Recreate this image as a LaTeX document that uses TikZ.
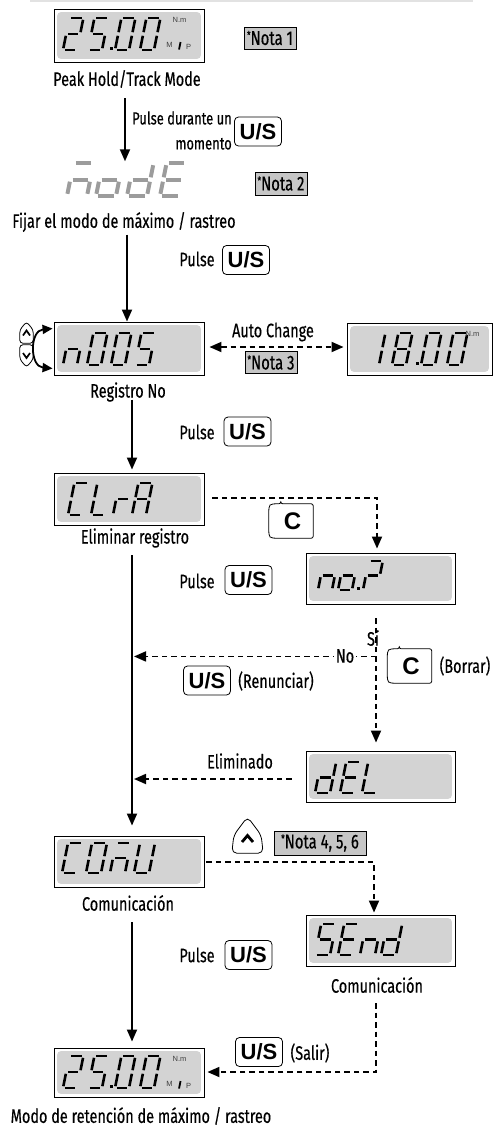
\documentclass[tikz,border=0pt]{standalone}
\usepackage{fontspec}
\setmainfont{Fira Sans}[FakeStretch=0.74,FakeBold=0.4]
\newfontfamily\keyfont{Liberation Sans}
\usetikzlibrary{arrows.meta,calc}

\definecolor{lcdgray}{HTML}{D3D3D3}
\definecolor{notegray}{HTML}{C6C6C6}
\definecolor{modegray}{HTML}{9C9C9C}
\definecolor{rulegray}{HTML}{E2E2E2}

% seven-segment glyph parameters: height, width, stroke
\def\gg{1.8}
\def\gcol{black}
\newcommand\glyphsize[3]{\def\gh{#1}\def\gw{#2}\def\glw{#3}}
\glyphsize{32}{14}{2.6}
% one slanted seven-segment cell, bottom-left corner at (#1,#2)
\newcommand\glyph[3]{%
  \begin{scope}[shift={(#1,#2)},xslant=0.2]
    \foreach \s in {#3}{\draw[seg,sg-\s];}
  \end{scope}}
% LCD window: name, centre x, centre y, width, height
\newcommand\lcd[5]{%
  \node[lcdframe,minimum width=#4pt,minimum height=#5pt] (#1) at (#2,#3) {};
  \fill[lcdgray,rounded corners=4pt] ($(#1.north west)+(3.5,3.5)$) rectangle ($(#1.south east)+(-3.5,-3.5)$);}
% unit legend of the main reading
\newcommand\units[2]{%
  \node[unit] (#1-nm) at ($(#1.north west)+(126,11.5)$) {N.m};
  \ifx#2y
  \node[unit] (#1-m) at ($(#1.north west)+(116,36)$) {M};
  \draw[line width=1.8pt] ($(#1.north west)+(127,33.5)$) -- ($(#1.north west)+(125.5,41)$);
  \node[unit] (#1-p) at ($(#1.north west)+(135,38)$) {P};
  \fi}

\tikzset{
  sg-a/.style={insert path={(\gg,-\gh) -- (\gw-\gg,-\gh)}},
  sg-b/.style={insert path={(\gw,-\gh+\gg) -- (\gw,-\gh/2-\gg)}},
  sg-c/.style={insert path={(\gw,-\gh/2+\gg) -- (\gw,-\gg)}},
  sg-d/.style={insert path={(\gg,0) -- (\gw-\gg,0)}},
  sg-e/.style={insert path={(0,-\gg) -- (0,-\gh/2+\gg)}},
  sg-f/.style={insert path={(0,-\gh/2-\gg) -- (0,-\gh+\gg)}},
  sg-g/.style={insert path={(\gg,-\gh/2) -- (\gw-\gg,-\gh/2)}},
  sg-p/.style={insert path={(0,-1.3) -- (2.6,-1.3)}},
  seg/.style={draw=\gcol,line width=\glw pt,line cap=butt},
  lcdframe/.style={draw=black,line width=0.9pt,fill=white,inner sep=0pt},
  unit/.style={font=\keyfont\fontsize{7.5}{7.5}\selectfont,text=black!75,inner sep=0pt},
  lbl/.style={font=\fontsize{19.5}{22}\selectfont,inner sep=0pt},
  note/.style={draw=black,line width=0.7pt,fill=notegray,inner sep=0pt,
    font=\fontsize{20}{20}\selectfont},
  keybtn/.style={draw=black,line width=0.8pt,fill=white,rounded corners=4pt,
    minimum width=47pt,minimum height=29pt,inner sep=0pt,
    font=\keyfont\bfseries\fontsize{22}{22}\selectfont},
  cbtn/.style={minimum width=44pt,minimum height=34pt,inner sep=0pt,
    font=\keyfont\bfseries\fontsize{24}{24}\selectfont},
  btnline/.style={draw=black,line width=0.8pt,fill=white},
  flow/.style={line width=1.8pt,-{Triangle[length=12pt,width=10pt]}},
  dflow/.style={flow,dash pattern=on 5.5pt off 4pt},
  dline/.style={line width=1.8pt,dash pattern=on 5.5pt off 4pt},
}
\newcommand\notestar{{\raisebox{0.3em}{\fontsize{11}{11}\selectfont *}}}

\begin{document}
\begin{tikzpicture}[x=1pt,y=-1pt]
\useasboundingbox (0,0) rectangle (493,1130);
\draw[rulegray,line width=1.5pt] (30,0.8) -- (473,0.8);

% ---------- LCD windows ----------
\lcd{d1}{129}{35.5}{150}{53}
\lcd{d2}{129}{348.5}{150}{53}
\lcd{d3}{419.5}{349}{145}{52}
\lcd{d4}{129}{499}{150}{52}
\lcd{d5}{380.5}{578.5}{149}{51}
\lcd{d6}{380.5}{776.5}{149}{51}
\lcd{d7}{129}{861.5}{150}{51}
\lcd{d8}{380.5}{940.5}{149}{51}
\lcd{d9}{129}{1072.5}{150}{49}

% 25.00 (top)
\glyphsize{32}{14}{2.6}
\glyph{63}{50}{a,b,g,e,d}
\glyph{88}{50}{a,f,g,c,d}
\glyph{110}{50}{p}
\glyph{115}{50}{a,b,c,d,e,f}
\glyph{140}{50}{a,b,c,d,e,f}
\units{d1}{y}

% MODE (grey)
\node[minimum width=125pt,minimum height=34pt,inner sep=0pt] (dm) at (128,179.5) {};
\begingroup
\def\gcol{modegray}
\def\gg{2.2}
\glyphsize{33}{20}{4}
\glyph{67}{196}{a,g,e,c}
\glyph{96}{196}{g,c,d,e}
\glyph{127}{196}{b,c,d,e,g}
\glyph{160}{196}{a,d,e,f,g}
\endgroup

% n005
\glyphsize{32}{14}{2.6}
\glyph{63}{365}{c,e,g}
\glyph{87}{365}{a,b,c,d,e,f}
\glyph{111}{365}{a,b,c,d,e,f}
\glyph{135}{365}{a,f,g,c,d}

% 18.00
\glyph{365}{365}{b,c}
\glyph{392}{365}{a,b,c,d,e,f,g}
\glyph{416}{365}{p}
\glyph{421}{365}{a,b,c,d,e,f}
\glyph{447}{365}{a,b,c,d,e,f}
\units{d3}{n}

% CLrA
\glyph{68}{515}{a,d,e,f}
\glyph{91}{515}{d,e,f}
\glyph{113}{515}{e,g}
\glyph{132}{515}{a,b,c,e,f,g}

% no.?
\glyphsize{29}{14}{2.6}
\glyph{318}{590}{c,e,g}
\glyph{338}{590}{c,d,e,g}
\glyph{357}{590}{p}
\glyph{363}{590}{a,b,g,e}

% dEL
\glyphsize{31}{15}{2.6}
\glyph{315}{793}{b,c,d,e,g}
\glyph{340}{793}{a,d,e,f,g}
\glyph{362}{793}{d,e,f}

% COMU
\glyphsize{30}{15}{2.6}
\glyph{62}{873}{a,d,e,f}
\glyph{86}{873}{a,b,c,d,e,f}
\glyph{110}{873}{a,c,e,g}
\glyph{134}{873}{b,c,d,e,f}

% SEnd
\glyphsize{31}{15}{2.6}
\glyph{315}{955}{a,f,g,c,d}
\glyph{338}{955}{a,d,e,f,g}
\glyph{360}{955}{c,e,g}
\glyph{381}{955}{b,c,d,e,g}

% 25.00 (bottom)
\glyphsize{32}{14}{2.6}
\glyph{63}{1088}{a,b,g,e,d}
\glyph{88}{1088}{a,f,g,c,d}
\glyph{110}{1088}{p}
\glyph{115}{1088}{a,b,c,d,e,f}
\glyph{140}{1088}{a,b,c,d,e,f}
\units{d9}{y}

% ---------- captions ----------
\node[lbl] (l1) at (127,79) {Peak Hold/Track Mode};
\node[lbl] (l2) at (124,222) {Fijar el modo de máximo / rastreo};
\node[lbl] (l3) at (128,392) {Registro No};
\node[lbl] (l4) at (135,538) {Eliminar registro};
\node[lbl] (l5) at (128,903) {Comunicación};
\node[lbl] (l6) at (377,985) {Comunicación};
\node[lbl] (l7) at (141,1116) {Modo de retención de máximo / rastreo};
\node[lbl,align=right,anchor=east,font=\fontsize{17.5}{25}\selectfont] (hold) at (232,130.5) {Pulse durante un\\momento};
\node[lbl] (auto) at (273,332) {Auto Change};
\node[lbl] (p2) at (197,259) {Pulse};
\node[lbl] (p3) at (197,432) {Pulse};
\node[lbl] (p4) at (197,581) {Pulse};
\node[lbl] (p6) at (197,955) {Pulse};
\node[lbl] (ren) at (276,681) {(Renunciar)};
\node[lbl] (bor) at (465,666) {(Borrar)};
\node[lbl] (elim) at (240,761) {Eliminado};
\node[lbl] (sal) at (310,1053) {(Salir)};

% ---------- notes ----------
\node[note,minimum width=52pt,minimum height=22pt] (n1) at (270,38) {\notestar Nota 1};
\node[note,minimum width=52pt,minimum height=23pt] (n2) at (281,183.5) {\notestar Nota 2};
\node[note,minimum width=52pt,minimum height=22pt] (n3) at (271,362.5) {\notestar Nota 3};
\node[note,minimum width=92pt,minimum height=24pt] (n4) at (320,843) {\notestar Nota 4, 5, 6};

% ---------- keys ----------
\node[keybtn] (b1) at (258,131.5) {U/S};
\node[keybtn] (b2) at (246,260) {U/S};
\node[keybtn] (b3) at (247.5,431.5) {U/S};
\node[keybtn] (b4) at (248.5,580) {U/S};
\node[keybtn] (b5) at (207,680.5) {U/S};
\node[keybtn] (b6) at (248.5,955) {U/S};
\node[keybtn] (b7) at (259,1052) {U/S};

\node[cbtn] (c1) at (291,521) {};
\node[cbtn] (c2) at (409.5,666) {};
\foreach \k in {c1,c2}{
  \draw[btnline,rounded corners=2pt]
    ($(\k.north west)+(12,0)$) -- (\k.north east) -- (\k.south east)
    -- ($(\k.south west)+(12,0)$)
    .. controls (\k.south west) .. ($(\k.south west)+(0,-12)$)
    -- ($(\k.north west)+(0,12)$)
    .. controls (\k.north west) .. cycle;
  \node[cbtn] (\k-t) at ($(\k.center)+(1.5,0)$) {C};
}

% up key near COMU
\node[minimum width=31pt,minimum height=36pt,inner sep=0pt] (up) at (247.5,835) {};
\draw[btnline,rounded corners=5pt] (up.south west) -- ($(up.south west)+(2,-18)$)
  -- (up.north) -- ($(up.south east)+(-2,-18)$) -- (up.south east) -- cycle;
\draw[line width=2.8pt] ($(up.center)+(-5.5,7)$) -- ($(up.center)+(0,0.5)$) -- ($(up.center)+(5.5,7)$);

% up / down keys beside the register number
\node[minimum width=13pt,minimum height=21pt,inner sep=0pt] (ku) at (26.5,332.5) {};
\node[minimum width=13pt,minimum height=22pt,inner sep=0pt] (kd) at (26.5,356) {};
\draw[btnline,rounded corners=3pt] (ku.south west) -- ($(ku.north west)+(0,8)$) -- (ku.north)
  -- ($(ku.north east)+(0,8)$) -- (ku.south east) -- cycle;
\draw[btnline,rounded corners=3pt] (kd.north west) -- ($(kd.south west)+(0,-8)$) -- (kd.south)
  -- ($(kd.south east)+(0,-8)$) -- (kd.north east) -- cycle;
\draw[line width=1.7pt] ($(ku.center)+(-3.5,3)$) -- ($(ku.center)+(0,-2)$) -- ($(ku.center)+(3.5,3)$);
\draw[line width=1.7pt] ($(kd.center)+(-3.5,-3)$) -- ($(kd.center)+(0,2)$) -- ($(kd.center)+(3.5,-3)$);
\draw[line width=1.8pt,{Triangle[length=10pt,width=9pt]}-{Triangle[length=10pt,width=9pt]}]
  ($(d2.north west)+(-1,7)$) .. controls ($(d2.north west)+(-24,9)$) and ($(d2.south west)+(-24,-9)$) .. ($(d2.south west)+(-1,-7)$);

% ---------- connectors ----------
\coordinate (spine) at ($(d4.south)+(5,0)$);
\draw[flow] ($(dm.north)+(-3,-64)$) -- ($(dm.north)+(-3,-1)$);
\draw[flow] ($(d2.north)+(-2,-87)$) -- ($(d2.north)+(-2,0)$);
\draw[flow] ($(d4.north)+(3,-73)$) -- ($(d4.north)+(3,-3)$);
\draw[flow] ($(d4.south)+(3,30)$) -- ($(d7.north)+(3,-10)$);
\draw[flow] ($(d7.south)+(3,35)$) -- ($(d9.north)+(3,-6)$);

\draw[dline,{Triangle[length=12pt,width=10pt]}-{Triangle[length=12pt,width=10pt]}]
  ($(d2.east)+(5,-1.5)$) -- ($(d3.west)+(-3,-2)$);

\draw[dflow] ($(d4.east)+(8,-1)$) -| ($(d5.north)+(-3.5,-4)$);
\draw[dflow] ($(d5.south)+(-4.5,14)$) -- ($(d6.north)+(-4.5,-8)$);
\coordinate (fork) at ($(d5.south)+(-4.5,52)$);
\draw[dflow] (fork) -- (spine |- fork);
\node[lbl,fill=white,inner xsep=2pt] (no) at (345,656) {No};
\node[lbl] (si) at (373,638) {Sí};
\coordinate (delout) at ($(d6.west)+(-14,2.5)$);
\draw[dflow] (delout) -- (spine |- delout);

\draw[dflow] ($(d7.east)+(2,0.5)$) -| ($(d8.north)+(-6.5,-2)$);
\draw[dflow] ($(l6.south)+(-1,10)$) |- ($(d9.east)+(3,-0.5)$);
\end{tikzpicture}
\end{document}
